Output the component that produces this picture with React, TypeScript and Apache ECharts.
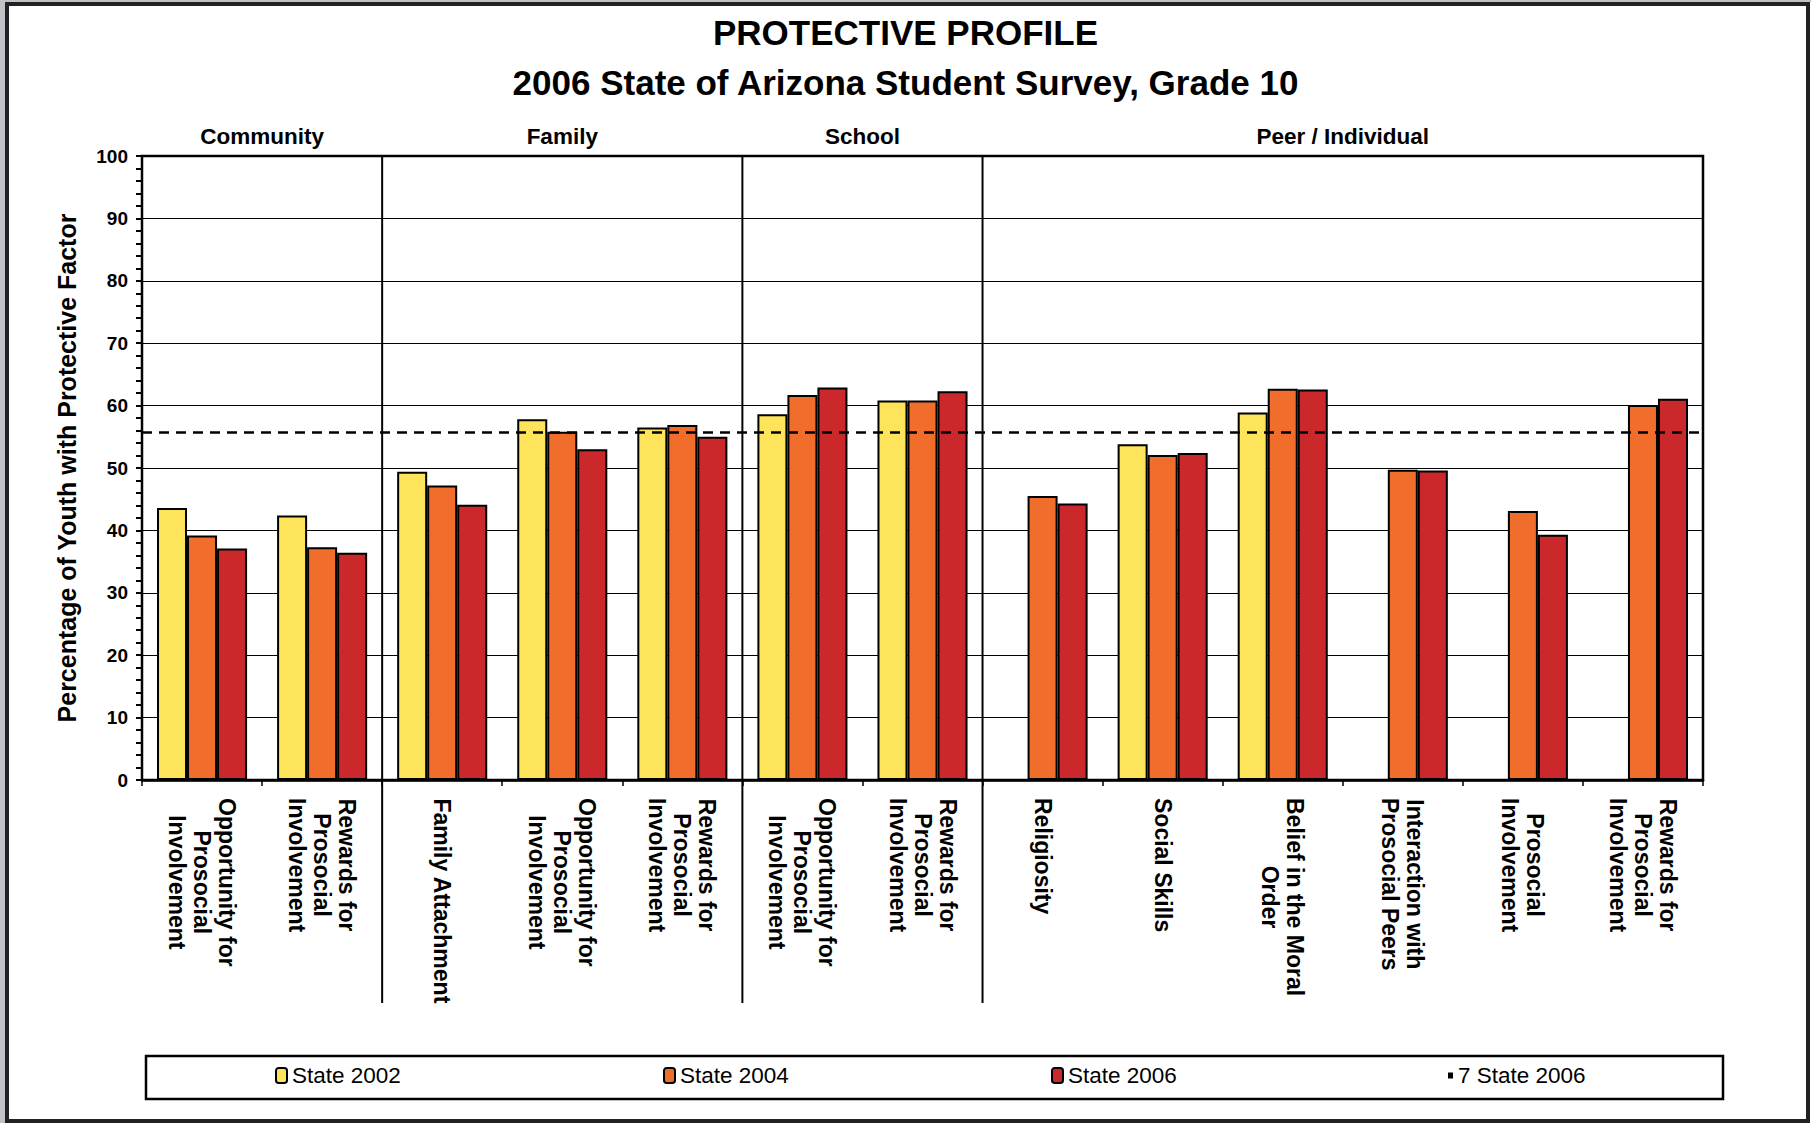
import React, { useEffect, useRef } from 'react';
import * as echarts from 'echarts';

const FONT = 'Arial, "Liberation Sans", Helvetica, sans-serif';

const categories = [
  'Opportunity for\nProsocial\nInvolvement',
  'Rewards for\nProsocial\nInvolvement',
  'Family Attachment',
  'Opportunity for\nProsocial\nInvolvement',
  'Rewards for\nProsocial\nInvolvement',
  'Opportunity for\nProsocial\nInvolvement',
  'Rewards for\nProsocial\nInvolvement',
  'Religiosity',
  'Social Skills',
  'Belief in the Moral\nOrder',
  'Interaction with\nProsocial Peers',
  'Prosocial\nInvolvement',
  'Rewards for\nProsocial\nInvolvement',
];

const groupNames = ['Community', 'Family', 'School', 'Peer / Individual'];
const groupSizes = [2, 3, 2, 6];

const state2002 = [43.6, 42.4, 49.4, 57.8, 56.5, 58.6, 60.8, null, 53.8, 58.9, null, null, null];
const state2004 = [39.2, 37.3, 47.2, 55.8, 56.9, 61.7, 60.8, 45.5, 52.1, 62.7, 49.7, 43.1, 60.1];
const state2006 = [37.1, 36.4, 44.1, 53.0, 55.0, 62.9, 62.3, 44.3, 52.4, 62.6, 49.6, 39.3, 61.1];
const sevenState2006 = 55.7;

const seriesNames = ['State 2002', 'State 2004', 'State 2006', '7 State 2006'];
const colors = ['#FEE45A', '#F16D2C', '#CA282A'];

export default function App() {
  const ref = useRef<HTMLDivElement>(null);

  useEffect(() => {
    document.body.style.margin = '0';
    const chart = echarts.init(ref.current!, null, { renderer: 'svg' });

    const GRID = { left: 142, top: 156, width: 1561, height: 624 };

    const barSeries = [state2002, state2004, state2006].map((d, i) => ({
      name: seriesNames[i],
      type: 'bar',
      data: d,
      barGap: '0%',
      barCategoryGap: '25%',
      itemStyle: { color: colors[i], borderColor: '#000', borderWidth: 2 },
    }));

    const legendCommon = {
      padding: 0,
      itemGap: 0,
      textStyle: { fontSize: 22.5, color: '#000', fontFamily: FONT },
    };

    chart.setOption({
      animation: false,
      backgroundColor: '#fff',
      textStyle: { fontFamily: FONT },
      title: [
        {
          text: 'PROTECTIVE PROFILE',
          left: 'center',
          top: 10,
          textStyle: { fontSize: 35, fontWeight: 'bold', color: '#000', fontFamily: FONT },
        },
        {
          text: '2006 State of Arizona Student Survey, Grade 10',
          left: 'center',
          top: 60,
          textStyle: { fontSize: 35, fontWeight: 'bold', color: '#000', fontFamily: FONT },
        },
      ],
      legend: [
        { ...legendCommon, data: [seriesNames[0]], left: 275, top: 1064, itemWidth: 11, itemHeight: 15 },
        { ...legendCommon, data: [seriesNames[1]], left: 663, top: 1064, itemWidth: 11, itemHeight: 15 },
        { ...legendCommon, data: [seriesNames[2]], left: 1051, top: 1064, itemWidth: 11, itemHeight: 15 },
        { ...legendCommon, data: [{ name: seriesNames[3], icon: 'rect' }], left: 1448, top: 1064, itemWidth: 5, itemHeight: 6 },
      ],
      grid: { ...GRID, show: true, borderColor: '#000', borderWidth: 2.5 },
      xAxis: {
        type: 'category',
        data: categories,
        axisLine: { show: true, lineStyle: { color: '#000', width: 2.5 } },
        axisTick: { show: true, length: 6, lineStyle: { color: '#000', width: 1.5 } },
        axisLabel: {
          rotate: -90,
          interval: 0,
          margin: 18,
          color: '#000',
          formatter: (v: string) => v.split('\n').map((l) => `{c|${l}}`).join('\n'),
          rich: {
            c: { align: 'center', fontSize: 23, fontWeight: 'bold', fontFamily: FONT, lineHeight: 25, color: '#000' },
          },
        },
      },
      yAxis: {
        type: 'value',
        min: 0,
        max: 100,
        interval: 10,
        name: 'Percentage of Youth with Protective Factor',
        nameLocation: 'middle',
        nameGap: 63,
        nameTextStyle: { fontSize: 25, fontWeight: 'bold', color: '#000', fontFamily: FONT },
        axisLine: { show: true, lineStyle: { color: '#000', width: 2 } },
        axisTick: { show: true, length: 6, lineStyle: { color: '#000', width: 2 } },
        minorTick: { show: true, splitNumber: 5, length: 6, lineStyle: { color: '#000', width: 2 } },
        axisLabel: { fontSize: 19, fontWeight: 'bold', color: '#000', margin: 14, fontFamily: FONT },
        splitLine: { show: true, lineStyle: { color: '#000', width: 1 } },
      },
      series: [
        ...barSeries,
        {
          name: seriesNames[3],
          type: 'line',
          data: [],
          color: '#000',
          itemStyle: { color: '#000' },
          markLine: {
            silent: true,
            symbol: 'none',
            label: { show: false },
            lineStyle: { color: '#000', type: [10, 7], width: 2.5 },
            data: [{ yAxis: sevenState2006 }],
          },
        },
      ],
    });

    const px = (i: number) => chart.convertToPixel({ xAxisIndex: 0 }, i) as number;
    const half = (px(1) - px(0)) / 2;
    const plotTop = GRID.top;
    const graphics: any[] = [
      { type: 'rect', shape: { x: 0, y: 0, width: 5, height: 1123 }, style: { fill: '#c0c2c5' } },
      { type: 'rect', shape: { x: 0, y: 0, width: 1811, height: 2 }, style: { fill: '#c0c2c5' } },
      { type: 'rect', shape: { x: 7, y: 4, width: 1801, height: 1117 }, style: { fill: 'none', stroke: '#222', lineWidth: 4 } },
      { type: 'rect', shape: { x: 146, y: 1056, width: 1577, height: 43 }, style: { fill: 'none', stroke: '#000', lineWidth: 2.5 } },
    ];
    let start = 0;
    groupSizes.forEach((n, gi) => {
      const left = px(start) - half;
      const right = px(start + n - 1) + half;
      graphics.push({
        type: 'text',
        x: (left + right) / 2,
        y: 136,
        style: {
          text: groupNames[gi],
          fill: '#000',
          fontSize: 22.5,
          fontWeight: 'bold',
          fontFamily: FONT,
          textAlign: 'center',
          textVerticalAlign: 'middle',
        },
      });
      if (gi < groupSizes.length - 1) {
        graphics.push({
          type: 'line',
          shape: { x1: right, y1: plotTop, x2: right, y2: 1003 },
          style: { stroke: '#000', lineWidth: 2 },
        });
      }
      start += n;
    });
    chart.setOption({ graphic: graphics });

    return () => chart.dispose();
  }, []);

  return <div ref={ref} style={{ width: 1811, height: 1123 }} />;
}
